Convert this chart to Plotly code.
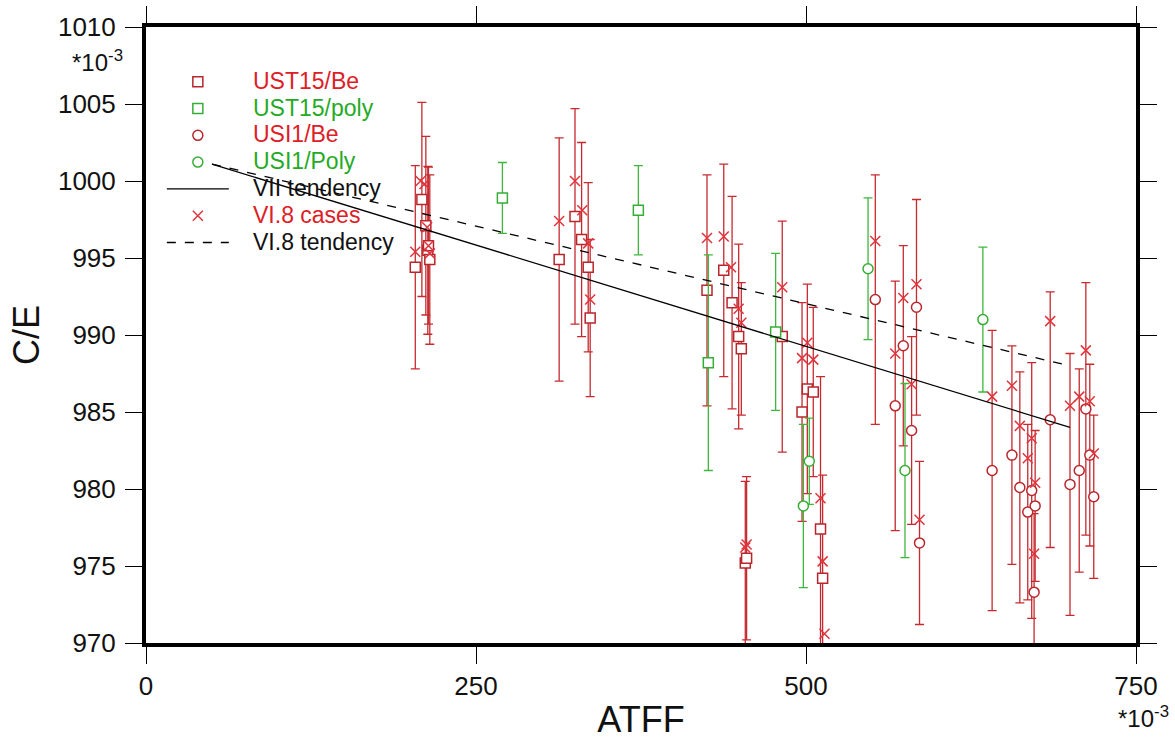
import plotly.graph_objects as go

# ---------------- data (ATFF in 1e-3 units, C/E in 1e-3 units) ----------------
ust15_be_x = [204, 209, 212, 213.5, 214, 215, 313, 325, 330, 335, 336.5, 425, 437.7, 444, 449, 451,
              454, 455, 482, 497, 501, 505.5, 511, 512.6]
ust15_be_y = [994.4, 998.8, 997.1, 995.5, 995.8, 994.9, 994.9, 997.7, 996.2, 994.4, 991.1, 992.9, 994.2,
              992.1, 989.9, 989.1, 975.2, 975.5, 989.9, 985.0, 986.5, 986.3, 977.4, 974.2]
ust15_be_e = [6.6, 6.3, 5.8, 5.45, 5.1, 5.5, 7.9, 7.0, 6.3, 5.5, 5.1, 7.5, 6.9, 6.9, 6.0, 4.3,
              5.3, 5.3, 7.5, 7.1, 6.8, 5.5, 9.9, 6.7]

ust15_poly_x = [270, 373, 426, 477]
ust15_poly_y = [998.9, 998.1, 988.2, 990.2]
ust15_poly_e = [2.3, 2.9, 7.0, 5.1]

usi1_be_x = [552.5, 567.6, 573.7, 580, 583.7, 586, 641, 656, 662, 668, 671, 673.6, 672.8, 685,
             700, 707, 712, 715, 718]
usi1_be_y = [992.3, 985.4, 989.3, 983.8, 991.8, 976.5, 981.2, 982.2, 980.1, 978.5, 979.9, 978.9, 973.3,
             984.5, 980.3, 981.2, 985.2, 982.2, 979.5]
usi1_be_e = [8.1, 8.1, 6.5, 6.1, 7.0, 5.3, 9.1, 7.1, 7.5, 5.7, 8.3, 4.9, 5.1, 8.3, 8.5, 6.6, 8.2, 5.9, 5.3]

usi1_poly_x = [498, 502.5, 547, 575, 634]
usi1_poly_y = [978.9, 981.8, 994.3, 981.2, 991.0]
usi1_poly_e = [5.3, 2.8, 4.6, 5.65, 4.7]

vi8_x = [204, 208, 211, 213, 214, 215,
         313, 325, 330.5, 335, 336.5,
         425, 437.7, 443.2, 449, 451,
         454, 455, 482,
         497, 501, 505.5, 511, 512.6, 514,
         552.5, 567.6, 573.7, 580, 583.7, 586,
         641, 656, 662, 668, 671, 673.6, 672.8, 685, 700, 707, 712, 715, 718]
vi8_y = [995.4, 1000.0, 999.8, 997.0, 995.8, 995.3,
         997.4, 1000.0, 998.1, 995.95, 992.3,
         996.3, 996.4, 994.4, 991.7, 990.8,
         976.2, 976.4, 993.1,
         988.5, 989.5, 988.4, 979.4, 975.3, 970.6,
         996.1, 988.8, 992.4, 986.8, 993.3, 978.0,
         986.0, 986.7, 984.1, 982.0, 983.3, 980.4, 975.8, 990.9, 985.4, 986.0, 989.0, 985.7, 982.3]

vii_tend_x = [50, 700]
vii_tend_y = [1001.1, 984.0]
vi8_tend_x = [50, 700]
vi8_tend_y = [1001.1, 988.0]

x_ticks = [0, 250, 500, 750]
y_ticks = [970, 975, 980, 985, 990, 995, 1000, 1005, 1010]

# ---------------- styling ----------------
RED_BAR = "#C62A2F"
RED_MK = "#B8262B"
RED_X = "#E0343C"
GREEN_BAR = "#3DB83D"
GREEN_MK = "#35AE35"
RED_TXT = "#DD2026"
GREEN_TXT = "#25AA25"
FONT = "Liberation Sans, Arial, sans-serif"
LEG_PX = 23
PAD = "\u00a0\u00a0\u00a0"


def leg_name(text, col):
    return f'<span style="color:{col};font-size:{LEG_PX}px">{PAD}{text}</span>'


fig = go.Figure()


def err_series(x, y, e, name, symbol, bar_col, mk_col, txt_col, rank):
    fig.add_trace(go.Scatter(
        x=x, y=y, mode="markers", name=leg_name(name, txt_col),
        legendrank=rank,
        marker=dict(symbol=symbol, size=10, color="white", line=dict(color=mk_col, width=1.5)),
        error_y=dict(type="data", array=e, visible=True, color=bar_col, thickness=1.3, width=4.5),
    ))


err_series(ust15_be_x, ust15_be_y, ust15_be_e, "UST15/Be", "square", RED_BAR, RED_MK, RED_TXT, 1)
err_series(ust15_poly_x, ust15_poly_y, ust15_poly_e, "UST15/poly", "square", GREEN_BAR, GREEN_MK, GREEN_TXT, 2)
err_series(usi1_be_x, usi1_be_y, usi1_be_e, "USI1/Be", "circle", RED_BAR, RED_MK, RED_TXT, 3)
err_series(usi1_poly_x, usi1_poly_y, usi1_poly_e, "USI1/Poly", "circle", GREEN_BAR, GREEN_MK, GREEN_TXT, 4)

fig.add_trace(go.Scatter(
    x=vi8_x, y=vi8_y, mode="markers", legendrank=6,
    name=leg_name("VI.8 cases", RED_TXT),
    marker=dict(symbol="x-thin", size=10, line=dict(color=RED_X, width=1.5)),
))

fig.add_trace(go.Scatter(
    x=vii_tend_x, y=vii_tend_y, mode="lines", legendrank=5,
    name=leg_name("VII tendency", "#111111"),
    line=dict(color="black", width=1.3),
))
fig.add_trace(go.Scatter(
    x=vi8_tend_x, y=vi8_tend_y, mode="lines", legendrank=7,
    name=leg_name("VI.8 tendency", "#111111"),
    line=dict(color="black", width=1.3, dash="dash"),
))

axis_common = dict(
    showline=True, linewidth=4, linecolor="black", mirror="ticks",
    ticks="outside", ticklen=17, tickwidth=1.2, tickcolor="black",
    showgrid=False, zeroline=False, automargin=False,
    tickfont=dict(family=FONT, size=26, color="#111111"),
)

fig.update_xaxes(range=[0, 750], tickvals=x_ticks, ticktext=[str(v) for v in x_ticks],
                 title=dict(text="ATFF", font=dict(family=FONT, size=36, color="#111111"), standoff=8),
                 **axis_common)
fig.update_yaxes(range=[970, 1010], tickvals=y_ticks, ticktext=[str(v) for v in y_ticks],
                 title=dict(text="C/E", font=dict(family=FONT, size=36, color="#111111"), standoff=8),
                 ticklabelstandoff=4,
                 **axis_common)

fig.add_annotation(text="*10<sup>-3</sup>", xref="paper", yref="paper", x=-0.049, y=0.944,
                   xanchor="center", yanchor="middle", showarrow=False,
                   font=dict(family=FONT, size=24, color="#111111"))
fig.add_annotation(text="*10<sup>-3</sup>", xref="paper", yref="paper", x=1.008, y=-0.12,
                   xanchor="center", yanchor="middle", showarrow=False,
                   font=dict(family=FONT, size=24, color="#111111"))

fig.update_layout(
    width=1175, height=741,
    margin=dict(l=146, r=39, t=27, b=98),
    paper_bgcolor="white", plot_bgcolor="white",
    showlegend=True,
    legend=dict(x=0.016, y=0.941, xanchor="left", yanchor="top",
                bgcolor="rgba(0,0,0,0)", borderwidth=0,
                font=dict(family=FONT, size=18.3, color="black"),
                itemwidth=62, tracegroupgap=0),
)

fig.write_html("out.html")
